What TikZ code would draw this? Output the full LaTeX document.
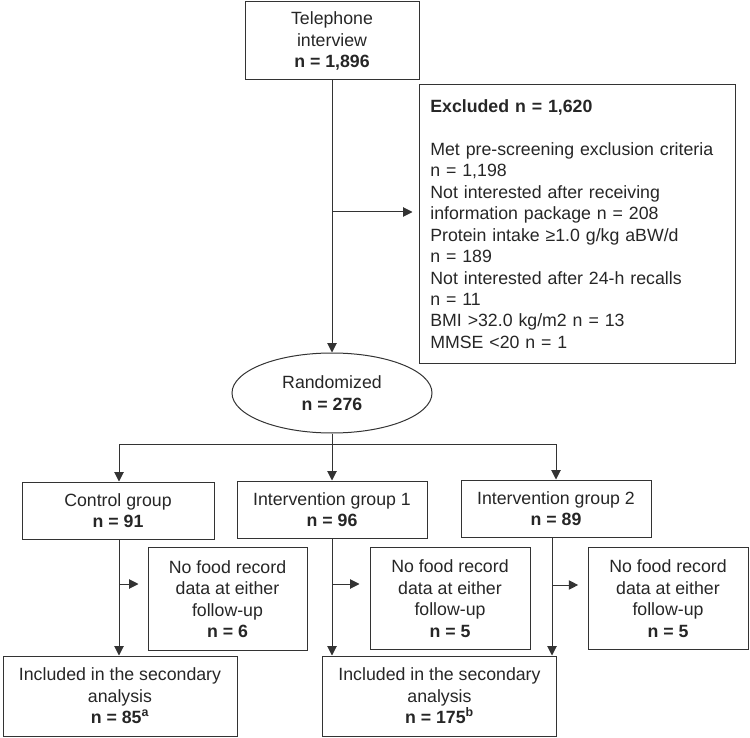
\documentclass[tikz,border=0pt]{standalone}
\usepackage{fontspec}
\setmainfont{Liberation Sans}
\usetikzlibrary{shapes.geometric,arrows.meta}

\begin{document}
\begin{tikzpicture}[
  x=0.75pt, y=-0.75pt,
  every node/.style={font=\fontsize{13.3}{16.1}\selectfont, text=black!85},
  flowarrow/.style={-{Triangle[length=7pt,width=7pt]}, line width=0.75pt, draw=black!80},
  flowline/.style={line width=0.75pt, draw=black!80},
  flowbox/.style={
    draw=black!80,
    line width=0.75pt,
    align=center,
    inner sep=2pt
  },
  exclbox/.style={flowbox, align=left, text width=220pt, inner xsep=8.5pt, minimum height=208.5pt},
  randellipse/.style={flowbox, ellipse, inner sep=0pt, minimum width=150pt, minimum height=60pt},
  groupbox/.style={flowbox, minimum width=142.5pt, minimum height=42.75pt},
  lossbox/.style={flowbox, minimum width=120pt, minimum height=77pt},
  inclbox/.style={flowbox, minimum width=176pt, minimum height=60pt}
]
\useasboundingbox (0,0) rectangle (750,738);

\node[flowbox, minimum width=130.5pt, minimum height=58.5pt] (phone) at (332,41) {
  Telephone\\
  interview\\
  \textbf{n = 1,896}
};

\node[exclbox] (excluded) at (577,224) {
  \textbf{Excluded n = 1,620}\\[16.1pt]
  Met pre-screening exclusion criteria\\
  n = 1,198\\
  Not interested after receiving\\
  information package n = 208\\
  Protein intake ≥1.0 g/kg aBW/d\\
  n = 189\\
  Not interested after 24-h recalls\\
  n = 11\\
  BMI >32.0 kg/m2 n = 13\\
  MMSE <20 n = 1
};

\node[randellipse] (random) at (332,393) {
  Randomized\\
  \textbf{n = 276}
};

\node[groupbox, minimum width=144pt] (control) at (118,510.5) {
  Control group\\
  \textbf{n = 91}
};

\node[groupbox] (group1) at (332,509.5) {
  Intervention group 1\\
  \textbf{n = 96}
};

\node[groupbox] (group2) at (556,508.5) {
  Intervention group 2\\
  \textbf{n = 89}
};

\node[lossbox, minimum width=119.25pt] (loss1) at (227.5,599) {
  No food record\\
  data at either\\
  follow-up\\
  \textbf{n = 6}
};

\node[lossbox] (loss2) at (450,598.5) {
  No food record\\
  data at either\\
  follow-up\\
  \textbf{n = 5}
};

\node[lossbox] (loss3) at (668,598.5) {
  No food record\\
  data at either\\
  follow-up\\
  \textbf{n = 5}
};

\node[inclbox, minimum width=175.5pt] (incl1) at (120,696) {
  Included in the secondary\\
  analysis\\
  \textbf{n = 85\textsuperscript{a}}
};

\node[inclbox] (incl2) at (439.5,696) {
  Included in the secondary\\
  analysis\\
  \textbf{n = 175\textsuperscript{b}}
};

\coordinate (exsplit) at (phone.south |- 0,212);
\coordinate (randsplit) at (random.south |- 0,444);
\coordinate (ctrlstem) at (119,539);
\coordinate (g2stem) at (552,537);

\draw[flowarrow] (phone.south) -- (random.north);
\draw[flowarrow, shorten >=4.5pt] (exsplit) -- (exsplit -| excluded.west);

\draw[flowline] (random.south) -- (randsplit);
\draw[flowarrow] (randsplit) -| (control.north -| ctrlstem);
\draw[flowarrow] (randsplit) -- (group1.north);
\draw[flowarrow] (randsplit) -| (group2.north);

\draw[flowarrow] (ctrlstem) -- (ctrlstem |- incl1.north);
\draw[flowarrow, shorten >=6.75pt] (ctrlstem |- 0,584) -- (loss1.west |- 0,584);
\draw[flowarrow] (group1.south) -- (group1.south |- incl2.north);
\draw[flowarrow, shorten >=7.5pt] (group1.south |- 0,584) -- (loss2.west |- 0,584);
\draw[flowarrow] (g2stem) -- (g2stem |- incl2.north);
\draw[flowarrow, shorten >=7pt] (g2stem |- 0,585) -- (loss3.west |- 0,585);

\end{tikzpicture}
\end{document}
